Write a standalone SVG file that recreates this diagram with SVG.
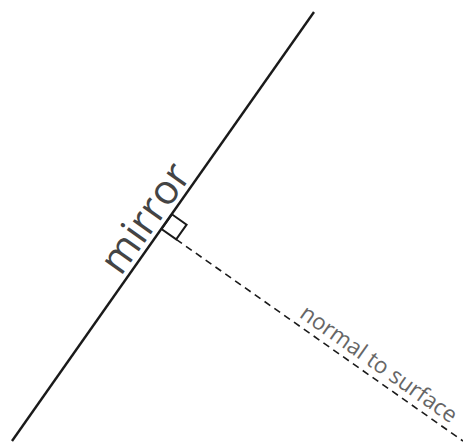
<svg xmlns="http://www.w3.org/2000/svg" width="463" height="442" viewBox="0 0 463 442">
<style>
.ln{stroke:#1a1a1a;stroke-width:2.4;fill:none}
.sq{stroke:#1a1a1a;stroke-width:2;fill:none}
.dash{stroke:#1a1a1a;stroke-width:1.6;fill:none;stroke-dasharray:7 5}
.lbl{font-family:"Open Sans","Noto Sans",sans-serif}
</style>
<rect width="463" height="442" fill="#ffffff"/>
<g id="connectors">
<line class="dash" x1="176.2" y1="239.4" x2="463" y2="441"/>
</g>
<g id="mirror">
<line class="ln" x1="314" y1="12" x2="12" y2="441"/>
<text class="lbl" transform="translate(156.5,226) rotate(-54.8)" text-anchor="middle" font-size="41" textLength="124" lengthAdjust="spacing" fill="#444444">mirror</text>
</g>
<g id="right-angle">
<path class="sq" d="M161.5,229 L171.9,214.3 L186.6,224.7 L176.2,239.4 Z"/>
</g>
<g id="normal">
<text class="lbl" transform="translate(298.5,316.5) rotate(35.2)" font-size="22.5" fill="#666666">normal to surface</text>
</g>
</svg>
